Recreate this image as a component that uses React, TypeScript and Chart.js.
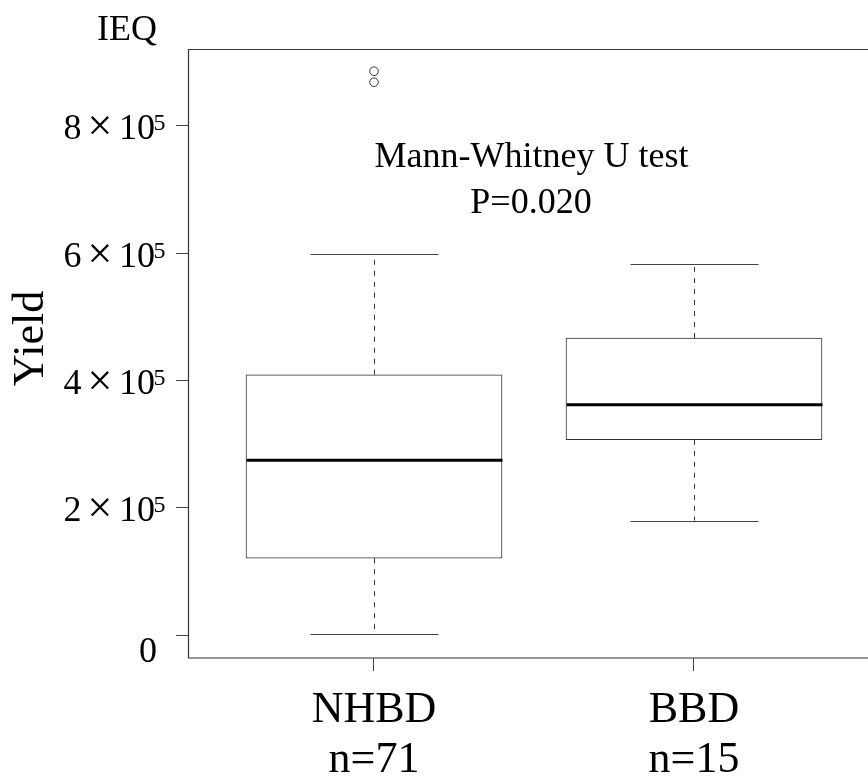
import React, { useEffect, useRef } from "react";
import { Chart, registerables } from "chart.js";

Chart.register(...registerables);

// ---- data ----
const categories = ["NHBD", "BBD"];
const sampleSizes = [71, 15];
const positions = [1, 2];
const whiskerLow = [1600, 180100];
const q1 = [121000, 307000];
const medians = [275000, 362000];
const q3 = [409100, 466800];
const whiskerHigh = [598800, 583100];
const outliersNHBD = [868500, 885800];
const outliersBBD: number[] = [];
const yTicks = [0, 200000, 400000, 600000, 800000];
const yTickMantissa = ["0", "2", "4", "6", "8"];
const yTickExponent = "5";
const yTitle = "Yield";
const unitLabel = "IEQ";
const testLine1 = "Mann-Whitney U test";
const testLine2 = "P=0.020";

const FONT = '"Liberation Serif", "Times New Roman", serif';

const boxPlugin = {
  id: "boxExtras",
  afterDatasetsDraw(chart: any) {
    const { ctx, scales } = chart;
    const xs = scales.x;
    const ys = scales.y;
    const unit = xs.getPixelForValue(2) - xs.getPixelForValue(1);
    const capHalf = unit * 0.2;
    const boxHalf = unit * 0.4;
    ctx.save();
    positions.forEach((p, i) => {
      const cx = Math.round(xs.getPixelForValue(p)) + 0.5;
      // whiskers (dashed)
      ctx.strokeStyle = "#333";
      ctx.lineWidth = 1;
      ctx.setLineDash([5, 6]);
      ctx.beginPath();
      ctx.moveTo(cx, ys.getPixelForValue(q3[i]));
      ctx.lineTo(cx, ys.getPixelForValue(whiskerHigh[i]));
      ctx.moveTo(cx, ys.getPixelForValue(q1[i]));
      ctx.lineTo(cx, ys.getPixelForValue(whiskerLow[i]));
      ctx.stroke();
      ctx.setLineDash([]);
      // caps
      ctx.strokeStyle = "#444";
      ctx.beginPath();
      const yh = Math.round(ys.getPixelForValue(whiskerHigh[i])) + 0.5;
      const yl = Math.round(ys.getPixelForValue(whiskerLow[i])) + 0.5;
      ctx.moveTo(cx - capHalf, yh);
      ctx.lineTo(cx + capHalf, yh);
      ctx.moveTo(cx - capHalf, yl);
      ctx.lineTo(cx + capHalf, yl);
      ctx.stroke();
      // median
      ctx.strokeStyle = "#000";
      ctx.lineWidth = 3;
      const ym = ys.getPixelForValue(medians[i]);
      ctx.beginPath();
      ctx.moveTo(cx - boxHalf, ym);
      ctx.lineTo(cx + boxHalf, ym);
      ctx.stroke();
    });
    ctx.restore();
  },
  afterDraw(chart: any) {
    const { ctx, scales, chartArea } = chart;
    const xs = scales.x;
    const ys = scales.y;
    ctx.save();
    // frame (right side lies beyond the visible canvas)
    ctx.strokeStyle = "#333";
    ctx.lineWidth = 1.2;
    ctx.beginPath();
    ctx.moveTo(chartArea.right + 10, chartArea.top + 0.5);
    ctx.lineTo(chartArea.left + 0.5, chartArea.top + 0.5);
    ctx.lineTo(chartArea.left + 0.5, chartArea.bottom);
    ctx.lineTo(chartArea.right + 10, chartArea.bottom);
    ctx.stroke();

    ctx.fillStyle = "#000";
    // y tick labels
    const R = chartArea.left - 22;
    yTicks.forEach((v, i) => {
      const y = ys.getPixelForValue(v);
      ctx.textAlign = "center";
      ctx.textBaseline = "alphabetic";
      if (v === 0) {
        ctx.font = `36px ${FONT}`;
        ctx.fillText(yTickMantissa[i], R - 18, y + 27);
        return;
      }
      const base = y + 13.5;
      ctx.font = `36px ${FONT}`;
      ctx.fillText(yTickMantissa[i], R - 93.5, base);
      ctx.fillText("10", R - 29, base);
      ctx.font = `44px ${FONT}`;
      ctx.fillText("\u00D7", R - 66, base + 1);
      ctx.font = `24px ${FONT}`;
      ctx.fillText(yTickExponent, R - 6.5, base - 9);
    });

    // x labels
    ctx.font = `44px ${FONT}`;
    ctx.textAlign = "center";
    ctx.textBaseline = "alphabetic";
    positions.forEach((p, i) => {
      const x = xs.getPixelForValue(p);
      ctx.fillText(categories[i], x, chartArea.bottom + 64);
      ctx.fillText(`n=${sampleSizes[i]}`, x, chartArea.bottom + 114);
    });

    // y title
    ctx.save();
    ctx.translate(43, (chartArea.top + chartArea.bottom) / 2 - 15);
    ctx.rotate(-Math.PI / 2);
    ctx.font = `44px ${FONT}`;
    ctx.textAlign = "center";
    ctx.fillText(yTitle, 0, 0);
    ctx.restore();

    // unit label
    ctx.font = `36px ${FONT}`;
    ctx.textAlign = "center";
    ctx.fillText(unitLabel, 127, 40);

    // annotation
    ctx.fillText(testLine1, 531.5, 167);
    ctx.fillText(testLine2, 531, 213);
    ctx.restore();
  },
};

export default function App() {
  const ref = useRef<HTMLCanvasElement | null>(null);
  useEffect(() => {
    if (!ref.current) return;
    const outlierPoints = [
      ...outliersNHBD.map((v) => ({ x: positions[0], y: v })),
      ...outliersBBD.map((v) => ({ x: positions[1], y: v })),
    ];
    const chart = new Chart(ref.current, {
      type: "bar",
      data: {
        datasets: [
          {
            type: "bar",
            data: positions.map((p, i) => ({ x: p, y: [q1[i], q3[i]] })) as any,
            backgroundColor: "#ffffff",
            borderColor: "#333",
            borderWidth: 1,
            borderSkipped: false,
            barThickness: 256,
            grouped: false,
          } as any,
          {
            type: "scatter",
            data: outlierPoints as any,
            pointRadius: 4.3,
            pointBorderColor: "#333",
            pointBackgroundColor: "rgba(0,0,0,0)",
            pointBorderWidth: 1,
            showLine: false,
          } as any,
        ],
      },
      options: {
        animation: false,
        responsive: false,
        devicePixelRatio: 1,
        layout: { padding: { top: 49, right: 0, left: 0, bottom: 0 } },
        plugins: { legend: { display: false }, tooltip: { enabled: false } },
        scales: {
          x: {
            type: "linear",
            min: 0.41875,
            max: 2.5272,
            offset: false,
            afterBuildTicks: (s: any) => {
              s.ticks = positions.map((v) => ({ value: v }));
            },
            ticks: { display: false },
            grid: { offset: false, drawOnChartArea: false, drawTicks: true, tickLength: 13, color: "#444", lineWidth: 1 },
            border: { display: false },
            afterFit: (s: any) => {
              s.height = 120;
              s.paddingLeft = 0;
              s.paddingRight = 0;
            },
          },
          y: {
            type: "linear",
            min: -35680,
            max: 920700,
            afterBuildTicks: (s: any) => {
              s.ticks = yTicks.map((v) => ({ value: v }));
            },
            ticks: { display: false },
            grid: { drawOnChartArea: false, drawTicks: true, tickLength: 12, color: "#444", lineWidth: 1 },
            border: { display: false },
            afterFit: (s: any) => {
              s.width = 188;
              s.paddingTop = 0;
              s.paddingBottom = 0;
            },
          },
        },
      } as any,
      plugins: [boxPlugin],
    });
    return () => chart.destroy();
  }, []);
  return (
    <div style={{ position: "absolute", left: 0, top: 0, width: 868, height: 778, background: "#fff" }}>
      <canvas ref={ref} width={868} height={778} style={{ display: "block" }} />
    </div>
  );
}
